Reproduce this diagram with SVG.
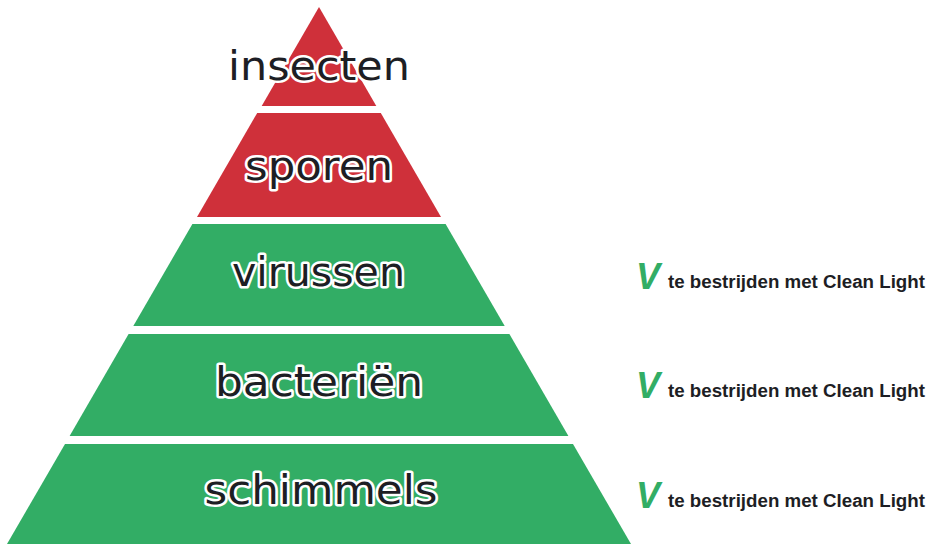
<svg xmlns="http://www.w3.org/2000/svg" width="931" height="544" viewBox="0 0 931 544">
<style>
.red{fill:#CF303A}
.green{fill:#32AD65}
.lbl{font-family:"DejaVu Sans","Liberation Sans",sans-serif;font-size:41px;fill:#1d1e24;stroke:#ffffff;stroke-width:5px;stroke-linejoin:round;paint-order:stroke;text-anchor:middle}
.v{font-family:"Liberation Sans",Arial,sans-serif;font-size:36px;font-weight:bold;font-style:italic;fill:#32AD65}
.note{font-family:"Liberation Sans",Arial,sans-serif;font-size:18px;font-weight:bold;fill:#1d1e24}
</style>
<rect width="931" height="544" fill="#ffffff"/>
<g id="insecten">
<polygon class="red" points="319,7 376.3,106 261.7,106"/>
<text class="lbl" x="319" y="80" textLength="182" lengthAdjust="spacingAndGlyphs">insecten</text>
</g>
<g id="sporen">
<polygon class="red" points="257.2,113 380.8,113 441,217 197,217"/>
<text class="lbl" x="319" y="180" textLength="148" lengthAdjust="spacingAndGlyphs">sporen</text>
</g>
<g id="virussen">
<polygon class="green" points="192.4,224 445.6,224 504.7,326 133.3,326"/>
<text class="lbl" x="318.5" y="286" textLength="173" lengthAdjust="spacingAndGlyphs">virussen</text>
</g>
<g id="bacterien">
<polygon class="green" points="128.6,334 509.4,334 568.4,436 69.6,436"/>
<text class="lbl" x="319" y="396" textLength="208" lengthAdjust="spacingAndGlyphs">bacteriën</text>
</g>
<g id="schimmels">
<polygon class="green" points="65,444 573,444 631,544 7,544"/>
<text class="lbl" x="321" y="504" textLength="233" lengthAdjust="spacingAndGlyphs">schimmels</text>
</g>
<g id="note1">
<text class="v" x="636" y="289">V</text>
<text class="note" x="668" y="288" textLength="257" lengthAdjust="spacingAndGlyphs">te bestrijden met Clean Light</text>
</g>
<g id="note2">
<text class="v" x="636" y="398">V</text>
<text class="note" x="668" y="397" textLength="257" lengthAdjust="spacingAndGlyphs">te bestrijden met Clean Light</text>
</g>
<g id="note3">
<text class="v" x="636" y="508">V</text>
<text class="note" x="668" y="507" textLength="257" lengthAdjust="spacingAndGlyphs">te bestrijden met Clean Light</text>
</g>
<g id="connectors"></g>
</svg>
